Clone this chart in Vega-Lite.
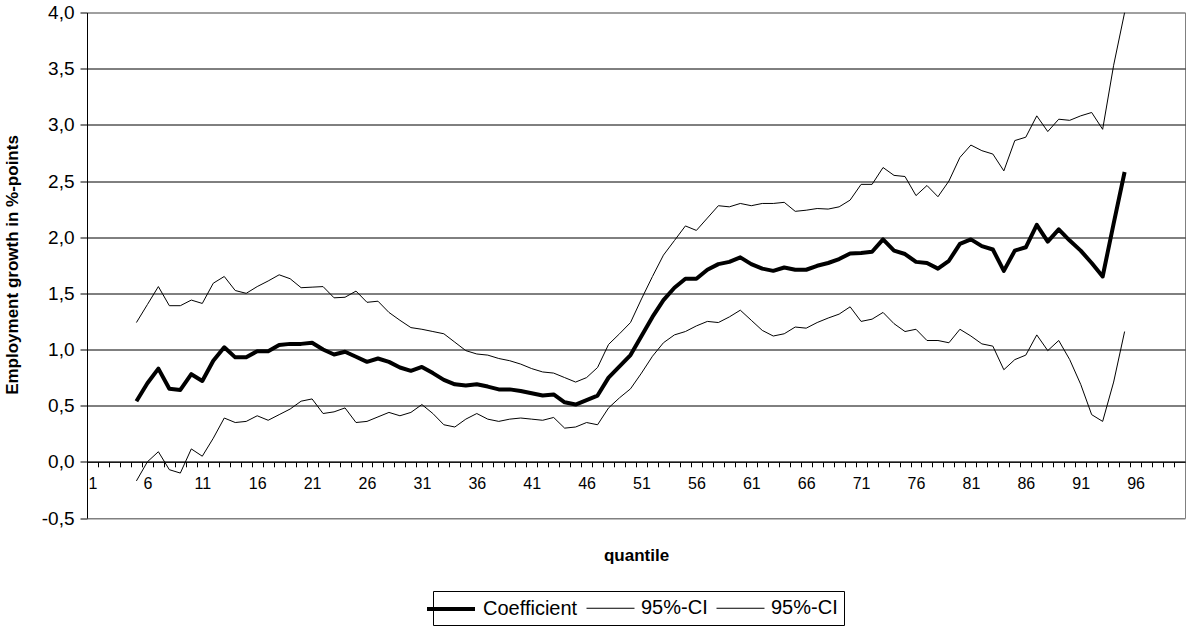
{
  "$schema": "https://vega.github.io/schema/vega-lite/v6.json",
  "width": 1098,
  "height": 505.5,
  "autosize": "none",
  "padding": {"left": 87, "top": 12.5, "right": 2, "bottom": 108},
  "background": "white",
  "config": {
    "font": "Liberation Sans",
    "view": {"stroke": "#808080", "strokeWidth": 1}
  },
  "data": {
    "values": [
      {"q": 5, "Coefficient": 0.54, "CI_upper": 1.24, "CI_lower": -0.17},
      {"q": 6, "Coefficient": 0.70, "CI_upper": 1.40, "CI_lower": 0.00},
      {"q": 7, "Coefficient": 0.83, "CI_upper": 1.56, "CI_lower": 0.09},
      {"q": 8, "Coefficient": 0.65, "CI_upper": 1.39, "CI_lower": -0.07},
      {"q": 9, "Coefficient": 0.64, "CI_upper": 1.39, "CI_lower": -0.10},
      {"q": 10, "Coefficient": 0.78, "CI_upper": 1.44, "CI_lower": 0.115},
      {"q": 11, "Coefficient": 0.72, "CI_upper": 1.41, "CI_lower": 0.05},
      {"q": 12, "Coefficient": 0.90, "CI_upper": 1.59, "CI_lower": 0.21},
      {"q": 13, "Coefficient": 1.02, "CI_upper": 1.65, "CI_lower": 0.39},
      {"q": 14, "Coefficient": 0.93, "CI_upper": 1.525, "CI_lower": 0.35},
      {"q": 15, "Coefficient": 0.93, "CI_upper": 1.50, "CI_lower": 0.36},
      {"q": 16, "Coefficient": 0.985, "CI_upper": 1.56, "CI_lower": 0.41},
      {"q": 17, "Coefficient": 0.985, "CI_upper": 1.61, "CI_lower": 0.37},
      {"q": 18, "Coefficient": 1.04, "CI_upper": 1.665, "CI_lower": 0.42},
      {"q": 19, "Coefficient": 1.05, "CI_upper": 1.63, "CI_lower": 0.47},
      {"q": 20, "Coefficient": 1.05, "CI_upper": 1.55, "CI_lower": 0.54},
      {"q": 21, "Coefficient": 1.06, "CI_upper": 1.555, "CI_lower": 0.56},
      {"q": 22, "Coefficient": 1.00, "CI_upper": 1.56, "CI_lower": 0.43},
      {"q": 23, "Coefficient": 0.955, "CI_upper": 1.46, "CI_lower": 0.445},
      {"q": 24, "Coefficient": 0.98, "CI_upper": 1.465, "CI_lower": 0.48},
      {"q": 25, "Coefficient": 0.935, "CI_upper": 1.52, "CI_lower": 0.35},
      {"q": 26, "Coefficient": 0.89, "CI_upper": 1.42, "CI_lower": 0.36},
      {"q": 27, "Coefficient": 0.92, "CI_upper": 1.43, "CI_lower": 0.40},
      {"q": 28, "Coefficient": 0.89, "CI_upper": 1.33, "CI_lower": 0.44},
      {"q": 29, "Coefficient": 0.84, "CI_upper": 1.26, "CI_lower": 0.41},
      {"q": 30, "Coefficient": 0.81, "CI_upper": 1.195, "CI_lower": 0.44},
      {"q": 31, "Coefficient": 0.845, "CI_upper": 1.18, "CI_lower": 0.51},
      {"q": 32, "Coefficient": 0.79, "CI_upper": 1.16, "CI_lower": 0.43},
      {"q": 33, "Coefficient": 0.73, "CI_upper": 1.14, "CI_lower": 0.33},
      {"q": 34, "Coefficient": 0.69, "CI_upper": 1.065, "CI_lower": 0.31},
      {"q": 35, "Coefficient": 0.68, "CI_upper": 0.99, "CI_lower": 0.38},
      {"q": 36, "Coefficient": 0.69, "CI_upper": 0.96, "CI_lower": 0.43},
      {"q": 37, "Coefficient": 0.67, "CI_upper": 0.95, "CI_lower": 0.38},
      {"q": 38, "Coefficient": 0.645, "CI_upper": 0.92, "CI_lower": 0.36},
      {"q": 39, "Coefficient": 0.645, "CI_upper": 0.90, "CI_lower": 0.38},
      {"q": 40, "Coefficient": 0.63, "CI_upper": 0.87, "CI_lower": 0.39},
      {"q": 41, "Coefficient": 0.61, "CI_upper": 0.83, "CI_lower": 0.38},
      {"q": 42, "Coefficient": 0.59, "CI_upper": 0.80, "CI_lower": 0.37},
      {"q": 43, "Coefficient": 0.60, "CI_upper": 0.79, "CI_lower": 0.395},
      {"q": 44, "Coefficient": 0.53, "CI_upper": 0.75, "CI_lower": 0.30},
      {"q": 45, "Coefficient": 0.51, "CI_upper": 0.71, "CI_lower": 0.31},
      {"q": 46, "Coefficient": 0.55, "CI_upper": 0.75, "CI_lower": 0.35},
      {"q": 47, "Coefficient": 0.59, "CI_upper": 0.84, "CI_lower": 0.33},
      {"q": 48, "Coefficient": 0.75, "CI_upper": 1.045, "CI_lower": 0.48},
      {"q": 49, "Coefficient": 0.85, "CI_upper": 1.14, "CI_lower": 0.57},
      {"q": 50, "Coefficient": 0.95, "CI_upper": 1.24, "CI_lower": 0.65},
      {"q": 51, "Coefficient": 1.12, "CI_upper": 1.45, "CI_lower": 0.79},
      {"q": 52, "Coefficient": 1.29, "CI_upper": 1.65, "CI_lower": 0.94},
      {"q": 53, "Coefficient": 1.44, "CI_upper": 1.84, "CI_lower": 1.06},
      {"q": 54, "Coefficient": 1.55, "CI_upper": 1.97, "CI_lower": 1.13},
      {"q": 55, "Coefficient": 1.63, "CI_upper": 2.10, "CI_lower": 1.16},
      {"q": 56, "Coefficient": 1.63, "CI_upper": 2.06, "CI_lower": 1.21},
      {"q": 57, "Coefficient": 1.71, "CI_upper": 2.17, "CI_lower": 1.25},
      {"q": 58, "Coefficient": 1.76, "CI_upper": 2.28, "CI_lower": 1.24},
      {"q": 59, "Coefficient": 1.78, "CI_upper": 2.27, "CI_lower": 1.29},
      {"q": 60, "Coefficient": 1.82, "CI_upper": 2.30, "CI_lower": 1.35},
      {"q": 61, "Coefficient": 1.76, "CI_upper": 2.28, "CI_lower": 1.26},
      {"q": 62, "Coefficient": 1.72, "CI_upper": 2.30, "CI_lower": 1.17},
      {"q": 63, "Coefficient": 1.70, "CI_upper": 2.30, "CI_lower": 1.12},
      {"q": 64, "Coefficient": 1.73, "CI_upper": 2.31, "CI_lower": 1.14},
      {"q": 65, "Coefficient": 1.71, "CI_upper": 2.23, "CI_lower": 1.20},
      {"q": 66, "Coefficient": 1.71, "CI_upper": 2.24, "CI_lower": 1.19},
      {"q": 67, "Coefficient": 1.745, "CI_upper": 2.255, "CI_lower": 1.24},
      {"q": 68, "Coefficient": 1.77, "CI_upper": 2.25, "CI_lower": 1.28},
      {"q": 69, "Coefficient": 1.805, "CI_upper": 2.27, "CI_lower": 1.315},
      {"q": 70, "Coefficient": 1.855, "CI_upper": 2.33, "CI_lower": 1.38},
      {"q": 71, "Coefficient": 1.86, "CI_upper": 2.47, "CI_lower": 1.25},
      {"q": 72, "Coefficient": 1.87, "CI_upper": 2.47, "CI_lower": 1.27},
      {"q": 73, "Coefficient": 1.98, "CI_upper": 2.62, "CI_lower": 1.33},
      {"q": 74, "Coefficient": 1.88, "CI_upper": 2.55, "CI_lower": 1.23},
      {"q": 75, "Coefficient": 1.85, "CI_upper": 2.54, "CI_lower": 1.16},
      {"q": 76, "Coefficient": 1.78, "CI_upper": 2.37, "CI_lower": 1.18},
      {"q": 77, "Coefficient": 1.77, "CI_upper": 2.46, "CI_lower": 1.08},
      {"q": 78, "Coefficient": 1.72, "CI_upper": 2.36, "CI_lower": 1.08},
      {"q": 79, "Coefficient": 1.79, "CI_upper": 2.50, "CI_lower": 1.06},
      {"q": 80, "Coefficient": 1.94, "CI_upper": 2.71, "CI_lower": 1.18},
      {"q": 81, "Coefficient": 1.98, "CI_upper": 2.82, "CI_lower": 1.12},
      {"q": 82, "Coefficient": 1.92, "CI_upper": 2.77, "CI_lower": 1.05},
      {"q": 83, "Coefficient": 1.89, "CI_upper": 2.74, "CI_lower": 1.03},
      {"q": 84, "Coefficient": 1.70, "CI_upper": 2.59, "CI_lower": 0.82},
      {"q": 85, "Coefficient": 1.88, "CI_upper": 2.86, "CI_lower": 0.91},
      {"q": 86, "Coefficient": 1.91, "CI_upper": 2.89, "CI_lower": 0.95},
      {"q": 87, "Coefficient": 2.11, "CI_upper": 3.08, "CI_lower": 1.13},
      {"q": 88, "Coefficient": 1.96, "CI_upper": 2.94, "CI_lower": 0.99},
      {"q": 89, "Coefficient": 2.07, "CI_upper": 3.05, "CI_lower": 1.08},
      {"q": 90, "Coefficient": 1.97, "CI_upper": 3.04, "CI_lower": 0.91},
      {"q": 91, "Coefficient": 1.88, "CI_upper": 3.08, "CI_lower": 0.69},
      {"q": 92, "Coefficient": 1.77, "CI_upper": 3.11, "CI_lower": 0.42},
      {"q": 93, "Coefficient": 1.65, "CI_upper": 2.96, "CI_lower": 0.36},
      {"q": 94, "Coefficient": 2.12, "CI_upper": 3.53, "CI_lower": 0.71},
      {"q": 95, "Coefficient": 2.58, "CI_upper": 4.0, "CI_lower": 1.16}
    ]
  },
  "transform": [
    {"fold": ["Coefficient", "CI_upper", "CI_lower"], "as": ["series", "value"]}
  ],
  "mark": {"type": "line", "clip": true, "color": "black", "strokeJoin": "round"},
  "encoding": {
    "x": {
      "field": "q",
      "type": "quantitative",
      "scale": {"domain": [0.5, 100.5], "nice": false, "zero": false},
      "axis": {
        "title": "quantile",
        "offset": -56.2,
        "values": [1,2,3,4,5,6,7,8,9,10,11,12,13,14,15,16,17,18,19,20,21,22,23,24,25,26,27,28,29,30,31,32,33,34,35,36,37,38,39,40,41,42,43,44,45,46,47,48,49,50,51,52,53,54,55,56,57,58,59,60,61,62,63,64,65,66,67,68,69,70,71,72,73,74,75,76,77,78,79,80,81,82,83,84,85,86,87,88,89,90,91,92,93,94,95,96,97,98,99],
        "labelExpr": "(datum.value - 1) % 5 == 0 ? datum.label : ''",
        "labelOverlap": false,
        "labelFlush": false,
        "labelAngle": 0,
        "tickOffset": 5.49,
        "labelOffset": -5.49,
        "tickSize": 5,
        "tickColor": "black",
        "domainColor": "black",
        "grid": false,
        "labelFontSize": 16,
        "labelColor": "black",
        "labelPadding": 9,
        "titleFontSize": 17,
        "titleFontWeight": "bold",
        "titleColor": "black",
        "titleY": 99,
        "titleBaseline": "alphabetic"
      }
    },
    "y": {
      "field": "value",
      "type": "quantitative",
      "scale": {"domain": [-0.5, 4], "nice": false, "zero": false},
      "axis": {
        "title": "Employment growth in %-points",
        "values": [-0.5, 0, 0.5, 1, 1.5, 2, 2.5, 3, 3.5, 4],
        "labelExpr": "replace(replace(format(datum.value, '.1f'), '.', ','), '\u2212', '-')",
        "grid": true,
        "gridColor": {"condition": {"test": "datum.value == 4 || datum.value == -0.5", "value": "#808080"}, "value": "black"},
        "gridOpacity": 1,
        "tickSize": 7,
        "tickColor": "black",
        "domainColor": "black",
        "labelFontSize": 19,
        "labelColor": "black",
        "labelPadding": 6,
        "titleFontSize": 17,
        "titleFontWeight": "bold",
        "titleColor": "black",
        "titleAngle": 270,
        "titleX": -70,
        "titleY": 252,
        "titleBaseline": "alphabetic"
      }
    },
    "strokeWidth": {
      "field": "series",
      "type": "nominal",
      "scale": {"type": "ordinal", "domain": ["Coefficient", "CI_upper", "CI_lower"], "range": [4, 1, 1]},
      "legend": {
        "title": null,
        "orient": "none",
        "legendX": 346,
        "legendY": 578.5,
        "direction": "horizontal",
        "symbolType": "M-2.4,0H2.4",
        "symbolSize": 400,
        "symbolStrokeColor": "black",
        "labelExpr": "datum.value == 'Coefficient' ? 'Coefficient' : '95%-CI'",
        "labelFontSize": 20,
        "labelColor": "black",
        "labelOffset": 20,
        "labelLimit": 0,
        "columnPadding": 6,
        "strokeColor": "black",
        "fillColor": "white",
        "padding": 6
      }
    }
  }
}
